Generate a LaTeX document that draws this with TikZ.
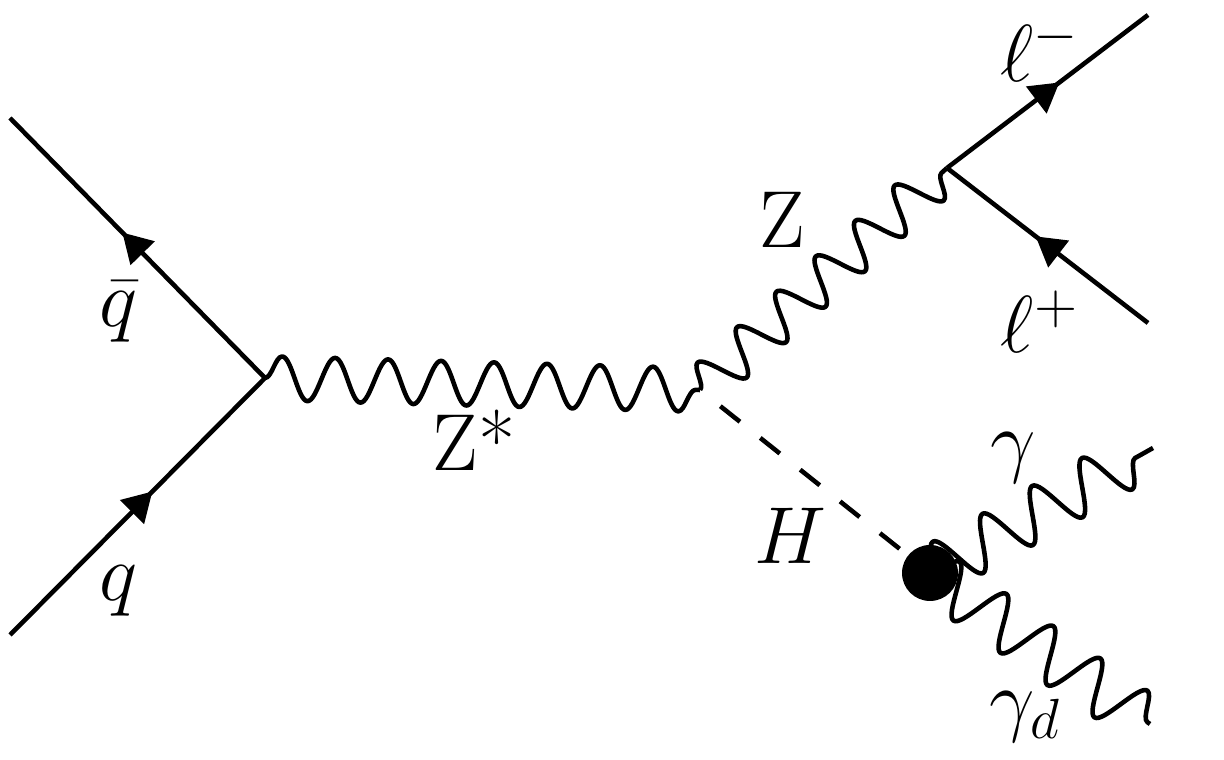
\RequirePackage{fix-cm}
\documentclass[tikz,border=0pt]{standalone}
\usepackage{amsmath, amssymb}
\usepackage{xcolor}
\usepackage{tikz}
\usetikzlibrary{arrows.meta, decorations.pathmorphing, decorations.markings}
\tikzset{fermion/.style={draw, line width=1.3pt,
    postaction={decorate},
    decoration={markings,
    mark=at position 0.56 with {\arrow{Triangle[length=0.29cm, width=0.33cm]}}}},
    photon/.style={draw, line width=1.3pt, line join=round, decorate,
    decoration={snake, amplitude=0.22cm, segment length=0.53cm}},
    bigphoton/.style={photon,
    decoration={snake, amplitude=0.26cm, segment length=0.57cm}},
    scalar/.style={draw, line width=1.3pt,
    dash pattern=on 0.25cm off 0.26cm, dash phase=0.25cm},
    blob/.style={circle, fill=black, minimum size=0.56cm, inner sep=0pt},
    particle/.style={inner sep=0pt, font=\fontsize{23}{28}\selectfont}}

\begin{document}
\begin{tikzpicture}
            \useasboundingbox (0,0) rectangle (12.24,7.6);
            % vertices and free ends
            \coordinate (qbarend) at (0.10,6.42);
            \coordinate (qend) at (0.10,1.25);
            \coordinate (vqq) at (2.65,3.82);
            \coordinate (vzh) at (7.00,3.70);
            \coordinate (vll) at (9.47,5.92);
            \coordinate (lmend) at (11.48,7.45);
            \coordinate (lpend) at (11.48,4.37);
            \coordinate (vh) at (9.30,1.87);
            \coordinate (gaend) at (11.53,3.12);
            \coordinate (gdend) at (11.50,0.36);
            % incoming quarks
            \draw[fermion] (vqq) -- (qbarend);
            \draw[fermion] (qend) -- (vqq);
            % bosons
            \draw[photon] (vqq) -- (vzh);
            \draw[photon] (vzh) -- (vll);
            \draw[scalar] (vzh) -- (vh);
            % leptons
            \draw[fermion] (vll) -- (lmend);
            \draw[fermion] (lpend) -- (vll);
            % photons
            \draw[bigphoton] (vh) -- (gaend);
            \draw[bigphoton] (vh) -- (gdend);
            \node[blob] (hdot) at (vh) {};
            % labels
            \node[particle] (qbarlbl) at (1.18,4.48) {$\bar{q}$};
            \node[particle] (qlbl) at (1.18,1.69) {$q$};
            \node[particle] (zstarlbl) at (4.74,3.20) {Z*};
            \node[particle] (zlbl) at (7.82,5.40) {Z};
            \node[particle] (hlbl) at (7.90,2.24) {$H$};
            \node[particle] (lmlbl) at (10.40,7.10) {$\ell^{-}$};
            \node[particle] (lplbl) at (10.40,4.38) {$\ell^{+}$};
            \node[particle] (galbl) at (10.13,3.02) {$\gamma$};
            \node[particle] (gdlbl) at (10.25,0.43) {$\gamma_{d}$};
\end{tikzpicture}
\end{document}
